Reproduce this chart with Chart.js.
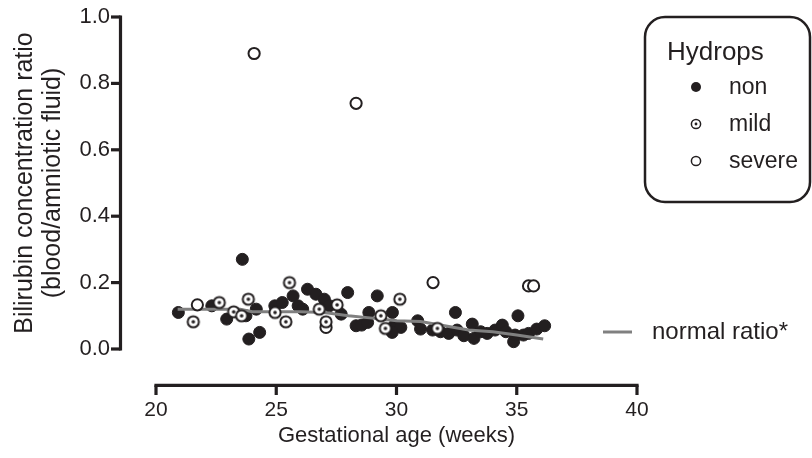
<!DOCTYPE html>
<html>
<head>
<meta charset="utf-8">
<script src="https://cdn.jsdelivr.net/npm/chart.js@4.4.0/dist/chart.umd.min.js"></script>
<style>
html,body{margin:0;padding:0;background:#fff;}
#wrap{width:812px;height:458px;position:relative;}
</style>
</head>
<body>
<div id="wrap"><canvas id="c" width="812" height="458"></canvas></div>
<script>
// ---- data ----
const xTickValues = [20, 25, 30, 35, 40];
const yTickValues = [0, 0.2, 0.4, 0.6, 0.8, 1.0];

const xTitle = 'Gestational age (weeks)';
const yTitle = ['Bilirubin concentration ratio', '(blood/amniotic fluid)'];
const legendTitle = 'Hydrops';
const seriesNames = ['non', 'mild', 'severe'];
const lineName = 'normal ratio*';

const nonAge   = [20.93, 22.32, 22.94, 23.59, 23.74, 23.86, 24.17, 24.31, 24.94, 25.25, 25.70, 25.91, 26.10, 26.30, 26.65, 27.00, 27.21, 27.70, 27.97, 28.32, 28.55, 28.80, 28.85, 29.20, 29.83, 29.90, 30.18, 29.82, 30.88, 31.00, 31.50, 31.83, 32.17, 32.45, 32.52, 32.80, 33.15, 33.22, 33.50, 33.77, 34.10, 34.40, 34.55, 34.87, 34.93, 35.05, 35.28, 35.49, 35.83, 36.16];
const nonRatio = [0.11,  0.13,  0.09,  0.27,  0.10,  0.03,  0.12,  0.05,  0.13,  0.14,  0.16,  0.13,  0.12,  0.18,  0.165, 0.15,  0.13,  0.105, 0.17,  0.07,  0.072, 0.08,  0.11,  0.16,  0.11,  0.07,  0.065, 0.05,  0.085, 0.06,  0.057, 0.052, 0.047, 0.11,  0.057, 0.04,  0.075, 0.032, 0.052, 0.047, 0.057, 0.072, 0.052, 0.022, 0.042, 0.10,  0.042, 0.047, 0.06,  0.07];

const mildAge   = [21.55, 22.63, 23.23, 23.56, 23.84, 24.95, 25.40, 25.55, 26.79, 27.53, 27.07, 29.35, 29.54, 30.14, 31.70];
const mildRatio = [0.082, 0.14,  0.112, 0.10,  0.15,  0.11,  0.082, 0.20,  0.12,  0.133, 0.082, 0.10,  0.062, 0.15,  0.062];

const severeAge   = [21.72, 24.08, 27.07, 28.32, 31.52, 35.49, 35.70];
const severeRatio = [0.133, 0.89,  0.065, 0.74,  0.20,  0.19,  0.19];

const normalAge   = [20.9, 23.5, 24.0, 26.0, 27.0, 28.0, 29.0, 30.0, 31.0, 32.0, 33.0, 34.0, 35.0, 36.1];
const normalRatio = [0.12, 0.12, 0.112, 0.112, 0.11, 0.10, 0.093, 0.085, 0.083, 0.07, 0.057, 0.052, 0.042, 0.03];

// ---- styling ----
const INK = '#231f20';
const GREY = '#808080';
const FONT = "'Liberation Sans', Arial, Helvetica, sans-serif";

const pts = (xs, ys) => xs.map((x, i) => ({x: x, y: ys[i]}));

function mildMarker(r, lw, dot) {
  const s = Math.ceil((r + lw) * 2 + 2);
  const c = document.createElement('canvas');
  c.width = s; c.height = s;
  const g = c.getContext('2d');
  g.beginPath(); g.arc(s / 2, s / 2, r, 0, Math.PI * 2);
  g.fillStyle = '#fff'; g.fill();
  g.lineWidth = lw; g.strokeStyle = INK; g.stroke();
  g.beginPath(); g.arc(s / 2, s / 2, dot, 0, Math.PI * 2);
  g.fillStyle = INK; g.fill();
  return c;
}

const axesAndLegend = {
  id: 'axesAndLegend',
  afterDraw(chart) {
    const ctx = chart.ctx;
    const xs = chart.scales.x, ys = chart.scales.y;
    ctx.save();
    ctx.strokeStyle = INK;
    ctx.lineCap = 'butt';
    // y axis
    const ax = 120.5, lwA = 3.2;
    ctx.lineWidth = lwA;
    const yTop = ys.getPixelForValue(yTickValues[yTickValues.length - 1]);
    const yBot = ys.getPixelForValue(yTickValues[0]);
    ctx.beginPath(); ctx.moveTo(ax, yTop - lwA / 2); ctx.lineTo(ax, yBot + lwA / 2); ctx.stroke();
    yTickValues.forEach(v => {
      const p = ys.getPixelForValue(v);
      ctx.beginPath(); ctx.moveTo(111, p); ctx.lineTo(ax, p); ctx.stroke();
    });
    // x axis
    const ay = 385.3;
    const xL = xs.getPixelForValue(xTickValues[0]);
    const xR = xs.getPixelForValue(xTickValues[xTickValues.length - 1]);
    ctx.beginPath(); ctx.moveTo(xL - lwA / 2, ay); ctx.lineTo(xR + lwA / 2, ay); ctx.stroke();
    xTickValues.forEach(v => {
      const p = xs.getPixelForValue(v);
      ctx.beginPath(); ctx.moveTo(p, ay); ctx.lineTo(p, 395); ctx.stroke();
    });

    // legend box
    ctx.lineWidth = 2.5;
    ctx.beginPath();
    ctx.roundRect(645, 17, 165, 185, 20);
    ctx.stroke();
    ctx.fillStyle = INK;
    ctx.textBaseline = 'alphabetic';
    ctx.textAlign = 'left';
    ctx.font = '26px ' + FONT;
    ctx.fillText(legendTitle, 667, 59.5);
    ctx.font = '23px ' + FONT;
    const rowY = [87, 124, 161];
    const mx = 696;
    // non
    ctx.beginPath(); ctx.arc(mx, rowY[0], 5, 0, Math.PI * 2); ctx.fill();
    // mild
    ctx.lineWidth = 1.5;
    ctx.beginPath(); ctx.arc(mx, rowY[1], 4.6, 0, Math.PI * 2); ctx.stroke();
    ctx.beginPath(); ctx.arc(mx, rowY[1], 1.4, 0, Math.PI * 2); ctx.fill();
    // severe
    ctx.beginPath(); ctx.arc(mx, rowY[2], 4.6, 0, Math.PI * 2); ctx.stroke();
    seriesNames.forEach((n, i) => ctx.fillText(n, 729, rowY[i] + 6.5));

    // normal ratio legend
    ctx.strokeStyle = GREY;
    ctx.lineWidth = 3;
    ctx.beginPath(); ctx.moveTo(603, 332); ctx.lineTo(632, 332); ctx.stroke();
    ctx.font = '24px ' + FONT;
    ctx.fillText(lineName, 652, 339);
    ctx.restore();
  }
};

new Chart(document.getElementById('c'), {
  type: 'scatter',
  data: {
    datasets: [
      {
        label: seriesNames[1], data: pts(mildAge, mildRatio), order: 0,
        pointStyle: mildMarker(5.6, 2, 1.8), pointRadius: 6.5
      },
      {
        label: seriesNames[2], data: pts(severeAge, severeRatio), order: 1,
        pointStyle: 'circle', pointRadius: 5.6, borderWidth: 2,
        borderColor: INK, backgroundColor: '#fff'
      },
      {
        label: lineName, data: pts(normalAge, normalRatio), order: 2,
        showLine: true, pointRadius: 0, borderColor: GREY, borderWidth: 3,
        tension: 0, fill: false
      },
      {
        label: seriesNames[0], data: pts(nonAge, nonRatio), order: 3,
        pointStyle: 'circle', pointRadius: 6, borderWidth: 1,
        borderColor: INK, backgroundColor: INK
      }
    ]
  },
  options: {
    responsive: false,
    animation: false,
    events: [],
    layout: {padding: {top: 17, right: 175, bottom: 0, left: 0}},
    plugins: {legend: {display: false}, tooltip: {enabled: false}, title: {display: false}},
    scales: {
      x: {
        type: 'linear', min: 20, max: 40,
        afterBuildTicks: s => { s.ticks = xTickValues.map(v => ({value: v})); },
        afterFit: s => { s.height = 109; },
        grid: {display: false, drawTicks: true, tickLength: 46},
        border: {display: false},
        ticks: {color: INK, font: {family: FONT, size: 21}, padding: 3, maxRotation: 0, autoSkip: false},
        title: {display: true, text: xTitle, color: INK, font: {family: FONT, size: 22}, padding: {top: 0, bottom: 9}}
      },
      y: {
        type: 'linear', min: 0, max: 1,
        afterBuildTicks: s => { s.ticks = yTickValues.map(v => ({value: v})); },
        afterFit: s => { s.width = 156; },
        grid: {display: false, drawTicks: true, tickLength: 43},
        border: {display: false},
        ticks: {color: INK, font: {family: FONT, size: 22}, padding: 3, callback: v => Number(v).toFixed(1), autoSkip: false},
        title: {display: true, text: yTitle, color: INK, font: {family: FONT, size: 25, lineHeight: 1.12}, padding: {top: 11, bottom: 0}}
      }
    }
  },
  plugins: [axesAndLegend]
});
</script>
</body>
</html>
